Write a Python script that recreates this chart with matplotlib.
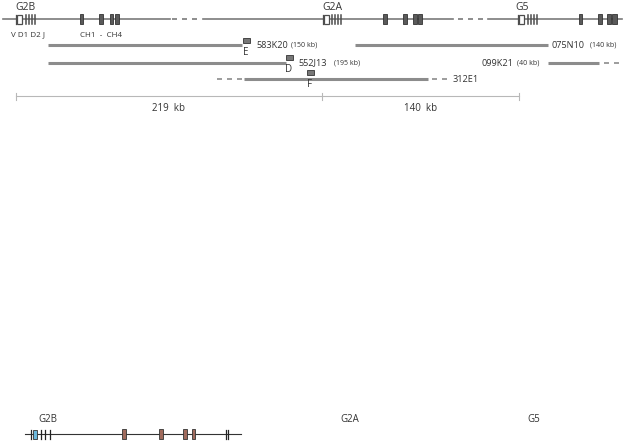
import matplotlib.pyplot as plt
from matplotlib.patches import Rectangle

plt.rcParams['font.family'] = ['Open Sans', 'DejaVu Sans']

# locus names and positions (map units, ~pixels along the map)
locus_names = ['G2B', 'G2A', 'G5']
locus_label_x = [15, 322, 515]
v_box = [(17, 22), (324, 329), (519, 524)]
dj_ticks = [[26, 29, 32, 35], [332, 335, 338, 341], [528, 531, 534, 537]]
ch_boxes = [[(80, 83), (99, 103), (110, 113), (115, 119)],
            [(383, 387), (403, 407), (413, 417), (418, 422)],
            [(579, 582), (598, 602), (607, 611), (612, 617)]]
map_solid = [(3, 170), (203, 453), (488, 622)]
map_gaps = [(172, 200), (458, 485)]

# BAC clones: name, size label, row, solid span, dashed spans, label x
clone_names = ['583K20', '075N10', '552J13', '099K21', '312E1']
clone_sizes = ['(150 kb)', '(140 kb)', '(195 kb)', '(40 kb)', '']
clone_rows = [45, 45, 63, 63, 79]
clone_spans = [(48, 242), (355, 548), (48, 286), (548, 599), (244, 428)]
clone_dashes = [[], [], [], [(604, 620)], [(217, 242), (432, 448)]]
clone_label_x = [256, 551, 298, 482, 453]
clone_size_x = [291, 590, 334, 517, None]

# probes
probe_names = ['E', 'D', 'F']
probe_x = [246, 289, 310]
probe_y = [40, 57, 72]

# scale bar
scale_ticks = [16, 322, 519]
scale_labels = ['219  kb', '140  kb']

# bottom detailed G2B map
bottom_names = ['G2B', 'G2A', 'G5']
bottom_label_x = [38, 340, 527]
bottom_line = (25, 241)
bottom_v = (33, 37)
bottom_ticks = [31, 41, 45, 50, 226, 228]
bottom_ch = [(122, 126), (159, 163), (183, 187), (192, 195)]

fig = plt.figure(figsize=(6.26, 4.43), dpi=100)
ax = fig.add_axes([0, 0, 1, 1])
ax.set_xlim(0, 626)
ax.set_ylim(443, 0)
ax.axis('off')

grey = '#7a7a7a'
dark = '#4d4d4d'
lgrey = '#b8b8b8'
txt = '#333333'
y0 = 19

# top map line
for a, b in map_solid:
    ax.plot([a, b], [y0, y0], color=grey, lw=1.2, zorder=1)
for a, b in map_gaps:
    ax.plot([a, b], [y0, y0], color=grey, lw=1.2, ls=(0, (3, 3)), zorder=1)

for i, name in enumerate(locus_names):
    ax.text(locus_label_x[i], 7, name, fontsize=7.5, color=txt, va='center')
    a, b = v_box[i]
    ax.plot([a - 1.5, a - 1.5], [y0 - 4.5, y0 + 4.5], color=dark, lw=0.9, zorder=3)
    ax.add_patch(Rectangle((a, y0 - 4.5), b - a, 9, facecolor='white', edgecolor=dark, lw=0.9, zorder=3))
    for t in dj_ticks[i]:
        ax.plot([t, t], [y0 - 4.5, y0 + 4.5], color=dark, lw=1.1, zorder=3)
    for a, b in ch_boxes[i]:
        ax.add_patch(Rectangle((a, y0 - 5), b - a, 10, facecolor='#5a5a5a', edgecolor='#333333', lw=0.6, zorder=3))

ax.text(11, 35, 'V D1 D2 J', fontsize=5.8, color=txt, va='center')
ax.text(80, 35, 'CH1  -  CH4', fontsize=5.8, color=txt, va='center')

# clones
for i, name in enumerate(clone_names):
    y = clone_rows[i]
    a, b = clone_spans[i]
    ax.plot([a, b], [y, y], color='#8c8c8c', lw=2.2, solid_capstyle='butt', zorder=2)
    for c, d in clone_dashes[i]:
        ax.plot([c, d], [y, y], color='#8c8c8c', lw=1.2, ls=(0, (3, 3)), zorder=2)
    ax.text(clone_label_x[i], y, name, fontsize=6.6, color=txt, va='center')
    if clone_sizes[i]:
        ax.text(clone_size_x[i], y, clone_sizes[i], fontsize=5, color=txt, va='center')

for i, name in enumerate(probe_names):
    ax.add_patch(Rectangle((probe_x[i] - 3.5, probe_y[i] - 2.5), 7, 5, facecolor='#777777',
                           edgecolor='#333333', lw=0.6, zorder=3))
    ax.text(probe_x[i], probe_y[i] + 12, name, fontsize=7, color=txt, ha='center', va='center')

# scale bar
ys = 96
ax.plot([scale_ticks[0], scale_ticks[-1]], [ys, ys], color=lgrey, lw=0.8)
for t in scale_ticks:
    ax.plot([t, t], [ys - 3.5, ys + 3.5], color=lgrey, lw=0.8)
for i, lab in enumerate(scale_labels):
    ax.text((scale_ticks[i] + scale_ticks[i + 1]) / 2, 108, lab, fontsize=7, color=txt,
            ha='center', va='center')

# bottom map
yb = 434
for i, name in enumerate(bottom_names):
    ax.text(bottom_label_x[i], 419, name, fontsize=7, color=txt, va='center')
ax.plot(bottom_line, [yb, yb], color='#333333', lw=0.8, zorder=1)
for t in bottom_ticks:
    ax.plot([t, t], [yb - 4.5, yb + 4.5], color='#222222', lw=0.9, zorder=3)
a, b = bottom_v
ax.add_patch(Rectangle((a, yb - 4.5), b - a, 9, facecolor='#6cb8dc', edgecolor='#333333', lw=0.6, zorder=3))
for a, b in bottom_ch:
    ax.add_patch(Rectangle((a, yb - 5), b - a, 10, facecolor='#a06a5c', edgecolor='#333333', lw=0.6, zorder=3))

fig.savefig('out.png', dpi=100)
